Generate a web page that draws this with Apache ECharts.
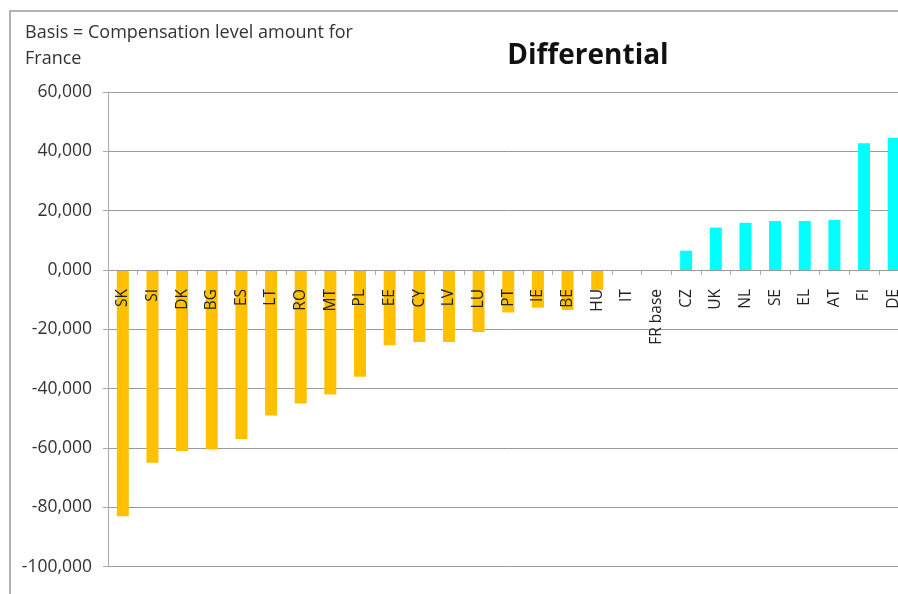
<!DOCTYPE html>
<html>
<head>
<meta charset="utf-8">
<script src="https://cdn.jsdelivr.net/npm/echarts@6/dist/echarts.min.js"></script>
<style>
html,body{margin:0;padding:0;overflow:hidden;background:#fff;}
#c{width:920px;height:594px;}
</style>
</head>
<body>
<div id="c"></div>
<script>
const categories = ['SK','SI','DK','BG','ES','LT','RO','MT','PL','EE','CY','LV','LU','PT','IE','BE','HU','IT','FR base','CZ','UK','NL','SE','EL','AT','FI','DE'];
const differential = [-83000,-65000,-61000,-60500,-57000,-49000,-45000,-42000,-36000,-25400,-24300,-24300,-20900,-14300,-12700,-13500,-6700,0,0,6500,14300,15900,16500,16500,16900,42700,44600];
const yTicks = [-100000,-80000,-60000,-40000,-20000,0,20000,40000,60000];
const titleText = 'Differential';
const noteText = 'Basis = Compensation level amount for\nFrance';

const negColor = '#FFC000';
const posColor = '#00FFFF';
const font = '"Open Sans", Lato, sans-serif';

function fmt(v){
  const sign = v < 0 ? '-' : '';
  return sign + Math.round(Math.abs(v)/1000) + ',000';
}

const gridTop = 92, gridBottomY = 566.7;
const yMin = yTicks[0], yMax = yTicks[yTicks.length-1];
// distance from bottom of the grid up to the zero line
const zeroOffset = (gridBottomY - gridTop) * (0 - yMin) / (yMax - yMin);

const chart = echarts.init(document.getElementById('c'), null, {renderer:'canvas'});
chart.setOption({
  animation:false,
  backgroundColor:'#fff',
  graphic:[{
    type:'rect', silent:true, z:-10,
    shape:{x:10,y:11,width:1000,height:1000},
    style:{fill:'none',stroke:'#9a9a9a',lineWidth:1.5}
  },{
    type:'text', left:25, top:20,
    style:{text:noteText, font:'18px '+font, fill:'#333', lineHeight:26}
  }],
  title:{
    text:titleText, left:583, top:37, textAlign:'center',
    textStyle:{fontFamily:font, fontWeight:'bold', fontSize:28, color:'#111'}
  },
  grid:{left:108, top:gridTop, width:800.5, bottom:594-gridBottomY, containLabel:false, outerBoundsMode:'none'},
  xAxis:{
    type:'category', data:categories, z:10, position:'bottom', offset:-zeroOffset,
    axisLine:{onZero:false, lineStyle:{color:'#999', width:1}},
    axisTick:{show:true, alignWithLabel:false, length:5, lineStyle:{color:'#aaa'}},
    axisLabel:{rotate:90, interval:0, margin:19, fontFamily:font, fontSize:15.5, color:'#222'}
  },
  yAxis:{
    type:'value', min:yMin, max:yMax, interval:20000,
    axisLine:{show:true, lineStyle:{color:'#aaa'}},
    axisTick:{show:true, length:5, lineStyle:{color:'#aaa'}},
    splitLine:{lineStyle:{color:'#999', width:1}},
    axisLabel:{formatter:fmt, margin:16, fontFamily:font, fontSize:17.5, color:'#333'}
  },
  series:[{
    type:'bar', data:differential, barWidth:12,
    itemStyle:{color:function(p){return p.value < 0 ? negColor : posColor;}}
  }]
});
</script>
</body>
</html>
